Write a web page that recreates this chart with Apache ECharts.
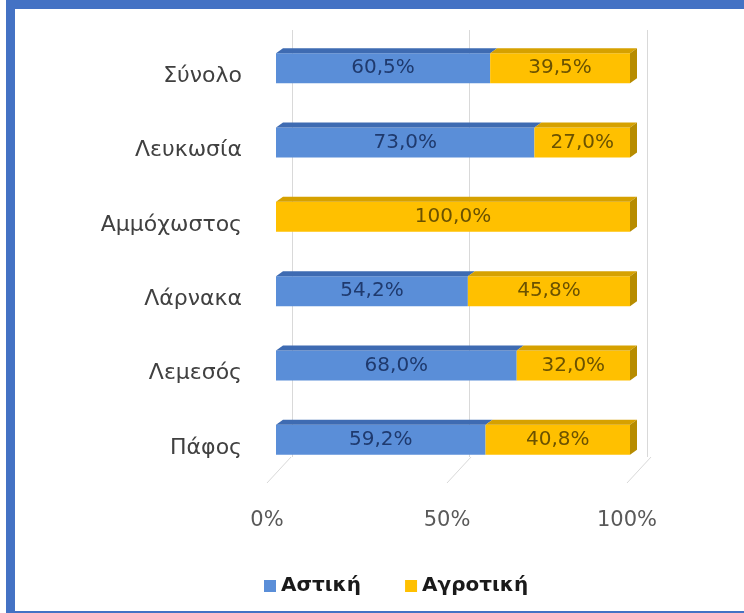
<!DOCTYPE html>
<html>
<head>
<meta charset="utf-8">
<script src="https://cdn.jsdelivr.net/npm/echarts@6/dist/echarts.min.js"></script>
<style>
  html, body { margin: 0; padding: 0; background: #fff; }
  #chart { position: absolute; left: 0; top: 0; width: 744px; height: 613px; }
  #frame { position: absolute; left: 6px; top: 0; width: 738px; height: 613px; box-sizing: border-box;
           border-left: 9px solid #4472C4; border-top: 9px solid #4472C4; border-bottom: 2px solid #4472C4;
           pointer-events: none; }
</style>
</head>
<body>
<div id="chart"></div>
<div id="frame"></div>
<script>
// ---- data ----
var categories = ['Σύνολο', 'Λευκωσία', 'Αμμόχωστος', 'Λάρνακα', 'Λεμεσός', 'Πάφος'];
var urban = [60.5, 73.0, 0, 54.2, 68.0, 59.2];     // Αστική
var rural = [39.5, 27.0, 100.0, 45.8, 32.0, 40.8]; // Αγροτική
var seriesNames = ['Αστική', 'Αγροτική'];
var axisTicks = [0, 50, 100];

// ---- styles ----
var FONT = '"DejaVu Sans", Verdana, sans-serif';
var BLUE = '#5A8ED8', BLUE_TOP = '#3E6BB2';
var GOLD = '#FFC000', GOLD_TOP = '#D6A100', GOLD_SIDE = '#B78C00';
var BAR_W = 30, DX = 7, DY = 5;

function fmt(v) { return v > 0 ? v.toFixed(1).replace('.', ',') + '%' : ''; }

var faceData = categories.map(function (c, i) { return [i, urban[i], rural[i]]; });
var floorData = axisTicks.map(function (t) { return [t, 0]; });

var chart = echarts.init(document.getElementById('chart'));
chart.setOption({
  backgroundColor: '#fff',
  animation: false,
  grid: [
    { left: 276, right: 114, top: 31, bottom: 136 },   // bars (front)
    { left: 292, right: 97, top: 30, bottom: 156 },    // back wall
    { left: 267, right: 117, top: 470, bottom: 130 }   // floor front / axis labels
  ],
  xAxis: [
    { gridIndex: 0, type: 'value', min: 0, max: 100, show: false },
    { gridIndex: 1, type: 'value', min: 0, max: 100, interval: 50,
      axisLabel: { show: false }, axisLine: { show: false }, axisTick: { show: false },
      splitLine: { show: true, lineStyle: { color: '#D9D9D9', width: 1 } } },
    { gridIndex: 2, type: 'value', min: 0, max: 100, interval: 50,
      axisLine: { show: false }, axisTick: { show: false }, splitLine: { show: false },
      axisLabel: { margin: 27, color: '#595959', fontSize: 21, fontFamily: FONT,
                   formatter: function (v) { return v + '%'; } } }
  ],
  yAxis: [
    { gridIndex: 0, type: 'category', data: categories, inverse: true,
      axisLine: { show: false }, axisTick: { show: false }, splitLine: { show: false },
      axisLabel: { margin: 34, color: '#404040', fontSize: 22, fontFamily: FONT,
                   verticalAlign: 'top', lineHeight: 16 } },
    { gridIndex: 1, type: 'value', show: false, min: 0, max: 1 },
    { gridIndex: 2, type: 'value', show: false, min: 0, max: 1 }
  ],
  legend: {
    data: [{ name: seriesNames[0], icon: 'rect' }, { name: seriesNames[1], icon: 'rect' }],
    left: 259, top: 571, itemWidth: 12, itemHeight: 12, itemGap: 44,
    textStyle: { fontFamily: FONT, fontSize: 20, fontWeight: 'bold', color: '#1A1A1A' }
  },
  series: [
    { name: seriesNames[0], type: 'bar', stack: 'total', xAxisIndex: 0, yAxisIndex: 0,
      barWidth: BAR_W, data: urban, z: 3,
      itemStyle: { color: BLUE },
      label: { show: true, position: 'inside', color: '#1F3A6E', fontSize: 20, fontFamily: FONT,
               formatter: function (p) { return fmt(p.value); } } },
    { name: seriesNames[1], type: 'bar', stack: 'total', xAxisIndex: 0, yAxisIndex: 0,
      barWidth: BAR_W, data: rural, z: 3,
      itemStyle: { color: GOLD },
      label: { show: true, position: 'inside', color: '#6B5200', fontSize: 20, fontFamily: FONT,
               formatter: function (p) { return fmt(p.value); } } },
    { type: 'custom', name: 'faces', xAxisIndex: 0, yAxisIndex: 0, silent: true, z: 4,
      data: faceData,
      renderItem: function (params, api) {
        var i = api.value(0), u = api.value(1), r = api.value(2);
        var c = api.coord([0, i]);
        var yTop = c[1] - BAR_W / 2, yBot = c[1] + BAR_W / 2;
        var x0 = api.coord([0, i])[0], x1 = api.coord([u, i])[0], x2 = api.coord([u + r, i])[0];
        var children = [];
        function top(a, b, color) {
          children.push({ type: 'polygon', shape: { points: [[a, yTop], [b, yTop], [b + DX, yTop - DY], [a + DX, yTop - DY]] },
                          style: { fill: color } });
        }
        if (u > 0) top(x0, x1, BLUE_TOP);
        if (r > 0) top(x1, x2, GOLD_TOP);
        children.push({ type: 'polygon', shape: { points: [[x2, yTop], [x2 + DX, yTop - DY], [x2 + DX, yBot - DY], [x2, yBot]] },
                        style: { fill: r > 0 ? GOLD_SIDE : BLUE_TOP } });
        return { type: 'group', children: children };
      } },
    { type: 'custom', name: 'floor', xAxisIndex: 2, yAxisIndex: 2, silent: true, z: 1,
      data: floorData,
      renderItem: function (params, api) {
        var p = api.coord([api.value(0), 0]);
        return { type: 'line', shape: { x1: p[0], y1: p[1], x2: p[0] + 24, y2: p[1] - 26 },
                 style: { stroke: '#D9D9D9', lineWidth: 1 } };
      } }
  ]
});
</script>
</body>
</html>
